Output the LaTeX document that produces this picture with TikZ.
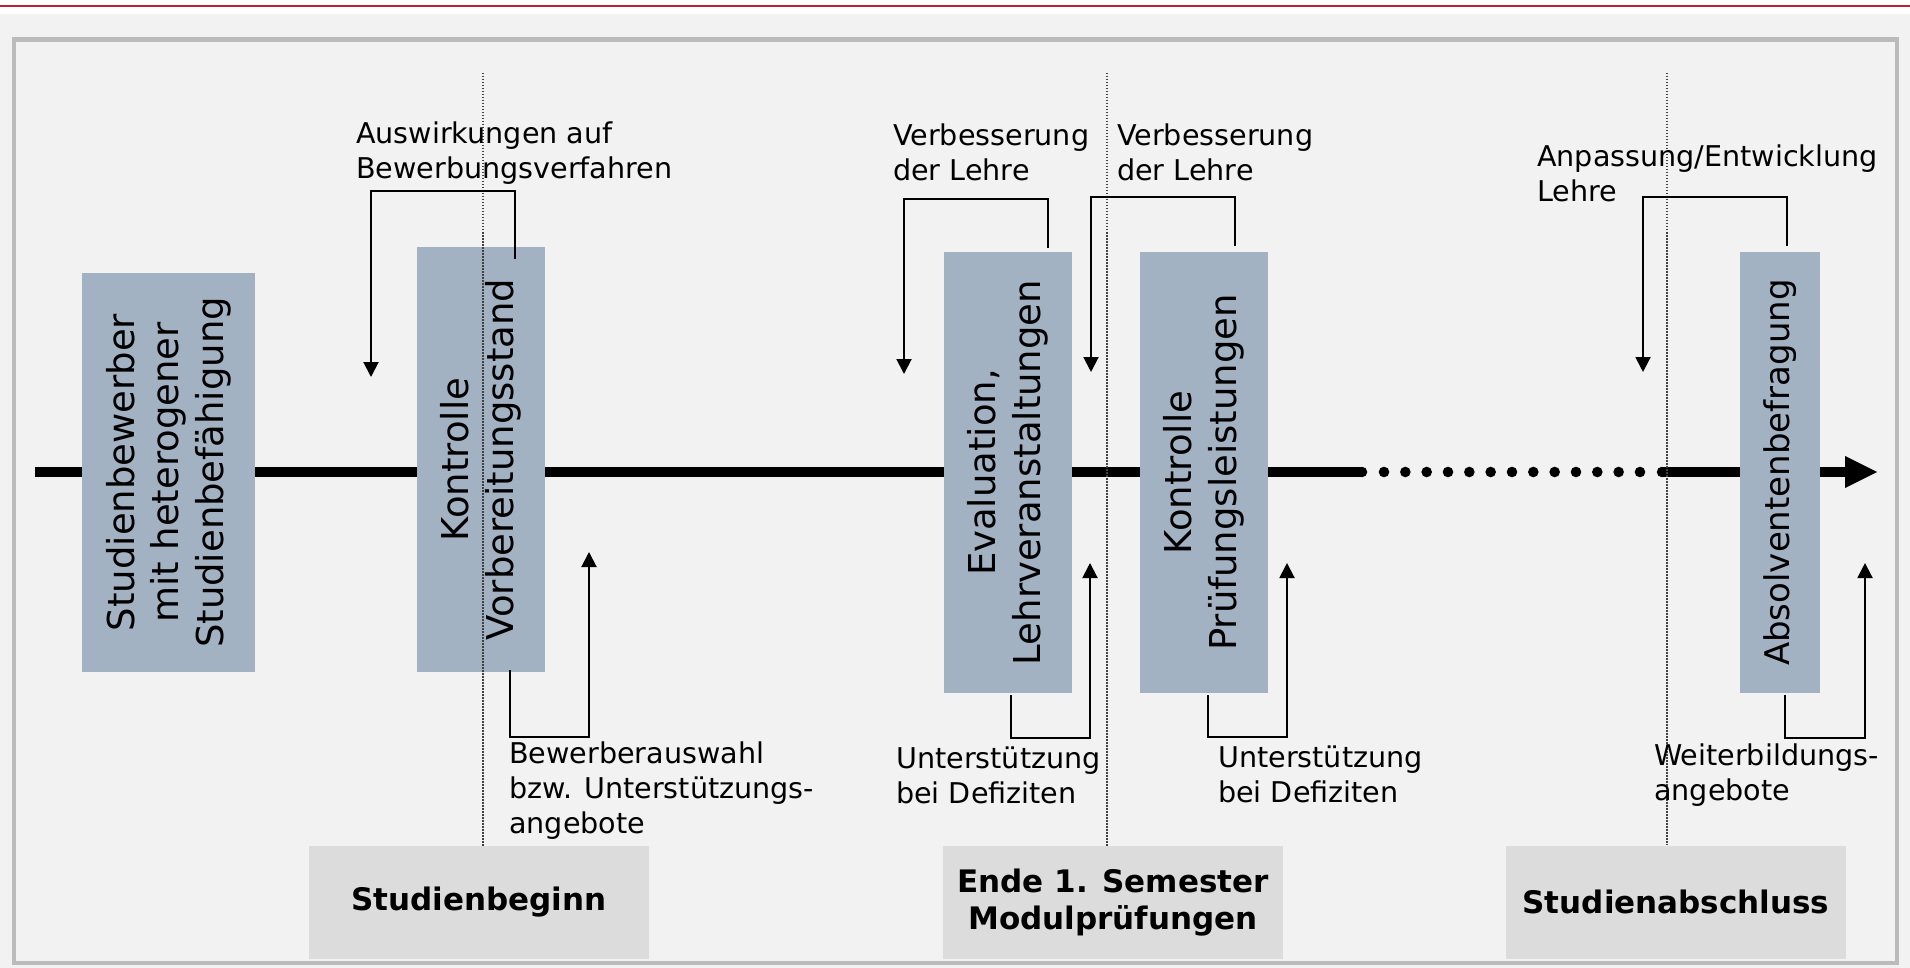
\documentclass[tikz,border=0pt]{standalone}
\usepackage{fontspec}
\setmainfont{DejaVu Sans}
\usetikzlibrary{arrows.meta}
\definecolor{bgc}{RGB}{242,242,242}
\definecolor{framec}{RGB}{187,187,187}
\definecolor{boxc}{RGB}{163,178,194}
\definecolor{phasec}{RGB}{220,220,220}
\definecolor{redc}{RGB}{192,30,54}
\begin{document}
\begin{tikzpicture}[x=1pt,y=-1pt,
  stagebox/.style={fill=boxc, draw=none, rotate=90, align=center, inner sep=0pt, font=\fontsize{37}{44.5}\selectfont},
  phasebox/.style={fill=phasec, draw=none, align=center, inner sep=0pt, minimum width=340pt, minimum height=113pt, font=\bfseries\fontsize{31}{37.5}\selectfont},
  lbl/.style={anchor=north west, inner sep=0pt, align=left, font=\fontsize{28.6}{35}\selectfont},
  fb/.style={line width=2pt, -{Triangle[length=15pt,width=15pt]}},
  guide/.style={line width=1.5pt, draw=black!75, dash pattern=on 1.5pt off 1.5pt},
  timeline/.style={line width=10.5pt}
]
\useasboundingbox (0,0) rectangle (1910,968);
\fill[white] (0,0) rectangle (1910,968);
\fill[bgc] (0,14) rectangle (1910,968);
\draw[redc, line width=2.5pt] (0,6) -- (1910,6);
\draw[framec, line width=4.5pt] (14,39.5) rectangle (1897,963);

% timeline
\draw[timeline] (35,472) -- (1362,472);
\fill (1362,472) circle (5.25);
\foreach \i in {0,...,12} \fill ({1384+21.33*\i},472) circle (5.3);
\fill (1662,472) circle (5.25);
\draw[timeline] (1662,472) -- (1847,472);
\fill (1845,456) -- (1877,472) -- (1845,488) -- cycle;

% stage boxes
\node[stagebox, minimum width=399pt, minimum height=173pt] (b1) at (168.5,472.5) {Studienbewerber\\mit heterogener\\Studienbefähigung};
\node[stagebox, minimum width=425pt, minimum height=128pt] (b2) at (481,459.5) {Kontrolle\\Vorbereitungsstand};
\node[stagebox, minimum width=441pt, minimum height=128pt] (b3) at (1008,472.5) {Evaluation,\\Lehrveranstaltungen};
\node[stagebox, minimum width=441pt, minimum height=128pt] (b4) at (1204,472.5) {Kontrolle\\Prüfungsleistungen};
\node[stagebox, minimum width=441pt, minimum height=80pt, font=\fontsize{34}{41}\selectfont] (b5) at (1780,472.5) {Absolventenbefragung};

% phase boxes
\node[phasebox] (p1) at (479,902.5) {Studienbeginn};
\node[phasebox] (p2) at (1113,902.5) {Ende 1. Semester\\Modulprüfungen};
\node[phasebox] (p3) at (1676,902) {Studienabschluss};

% guides
\coordinate (g1) at (483,73);
\coordinate (g2) at (1107,73);
\coordinate (g3) at (1667,73);
\draw[guide] (g1) -- (g1 |- p1.north);
\draw[guide] (g2) -- (g2 |- p2.north);
\draw[guide] (g3) -- (g3 |- p3.north);

% feedback loops
\coordinate (a1) at (371,377);
\coordinate (a2) at (589,552);
\coordinate (a3) at (904,374);
\coordinate (a4) at (1091,372);
\coordinate (a5) at (1090,563);
\coordinate (a6) at (1287,563);
\coordinate (a7) at (1643,372);
\coordinate (a8) at (1865,563);
\draw[fb] (515,259) -- (515,191) -- (a1 |- 0,191) -- (a1);
\draw[fb] (510,670) -- (510,737) -- (a2 |- 0,737) -- (a2);
\draw[fb] (1048,248) -- (1048,199) -- (a3 |- 0,199) -- (a3);
\draw[fb] (1235,246) -- (1235,197) -- (a4 |- 0,197) -- (a4);
\draw[fb] (1011,695) -- (1011,738) -- (a5 |- 0,738) -- (a5);
\draw[fb] (1208,695) -- (1208,737) -- (a6 |- 0,737) -- (a6);
\draw[fb] (1787,246) -- (1787,197) -- (a7 |- 0,197) -- (a7);
\draw[fb] (1785,695) -- (1785,738) -- (a8 |- 0,738) -- (a8);

% labels
\node[lbl] (t1) at (356,122) {Auswirkungen auf\\Bewerbungsverfahren};
\node[lbl] (t2) at (509,742) {Bewerberauswahl\\bzw. Unterstützungs-\\angebote};
\node[lbl] (t3) at (893,124) {Verbesserung\\der Lehre};
\node[lbl] (t4) at (1117,124) {Verbesserung\\der Lehre};
\node[lbl] (t5) at (896,747) {Unterstützung\\bei Defiziten};
\node[lbl] (t6) at (1218,746) {Unterstützung\\bei Defiziten};
\node[lbl] (t7) at (1537,145) {Anpassung/Entwicklung\\Lehre};
\node[lbl] (t8) at (1654,744) {Weiterbildungs-\\angebote};
\end{tikzpicture}
\end{document}
